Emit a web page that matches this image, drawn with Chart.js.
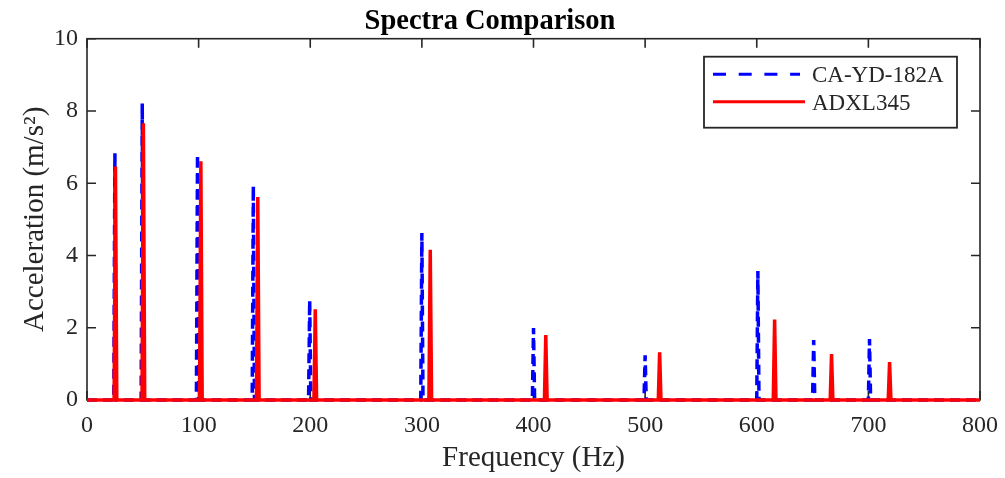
<!DOCTYPE html>
<html>
<head>
<meta charset="utf-8">
<script src="https://cdn.jsdelivr.net/npm/chart.js@4/dist/chart.umd.min.js"></script>
<style>
  html, body { margin: 0; padding: 0; background: #fff; }
  #wrap { width: 1005px; height: 478px; position: relative; }
</style>
</head>
<body>
<div id="wrap"><canvas id="c" width="1005" height="478"></canvas></div>
<script>
// ---- Data ----
const seriesNames = ['CA-YD-182A', 'ADXL345'];
const caFreqs = [25, 49.5, 99, 149, 199.5, 300, 400, 500, 601, 651, 701];
const caAmps  = [6.83, 8.21, 6.80, 5.93, 2.76, 4.62, 1.99, 1.24, 3.57, 1.66, 1.69];
const adxlFreqs = [25.5, 50.5, 102, 153, 204.5, 307.5, 411, 513, 616, 667, 719];
const adxlAmps  = [6.46, 7.66, 6.61, 5.62, 2.51, 4.16, 1.80, 1.32, 2.23, 1.27, 1.05];
const freqRange = [0, 800];
const xTicks = [0, 100, 200, 300, 400, 500, 600, 700, 800];
const yTicks = [0, 2, 4, 6, 8, 10];

// Build spectrum polyline: zero baseline with narrow peaks at the given frequencies
function spectrum(freqs, amps, halfWidth) {
  const pts = [{x: freqRange[0], y: 0}];
  freqs.forEach((f, i) => {
    pts.push({x: f - halfWidth, y: 0});
    pts.push({x: f, y: amps[i]});
    pts.push({x: f + halfWidth, y: 0});
  });
  pts.push({x: freqRange[1], y: 0});
  return pts;
}

const SERIF = "'Liberation Serif', 'Times New Roman', serif";

const frame = {
  id: 'frame',
  beforeDatasetsDraw(chart) {
    const {ctx, chartArea: a, scales: {x, y}} = chart;
    ctx.save();
    ctx.strokeStyle = '#262626';
    ctx.lineWidth = 1.6;
    ctx.strokeRect(a.left, a.top, a.right - a.left, a.bottom - a.top);
    const tl = 9;
    ctx.beginPath();
    xTicks.forEach(v => {
      const px = x.getPixelForValue(v);
      ctx.moveTo(px, a.top); ctx.lineTo(px, a.top + tl);
      ctx.moveTo(px, a.bottom); ctx.lineTo(px, a.bottom - tl);
    });
    yTicks.forEach(v => {
      const py = y.getPixelForValue(v);
      ctx.moveTo(a.left, py); ctx.lineTo(a.left + tl, py);
      ctx.moveTo(a.right, py); ctx.lineTo(a.right - tl, py);
    });
    ctx.stroke();
    ctx.restore();
  },
  afterDatasetsDraw(chart) {
    const {ctx, chartArea: a} = chart;
    const bx = a.right - 276, by = a.top + 18, bw = 253, bh = 71;
    ctx.save();
    ctx.fillStyle = '#fff';
    ctx.fillRect(bx, by, bw, bh);
    ctx.strokeStyle = '#262626';
    ctx.lineWidth = 1.8;
    ctx.strokeRect(bx, by, bw, bh);
    chart.data.datasets.forEach((ds, i) => {
      const ly = by + 17.5 + i * 27.5;
      ctx.beginPath();
      ctx.strokeStyle = ds.borderColor;
      ctx.lineWidth = 3;
      ctx.setLineDash(i === 0 ? [13, 12.7] : []);
      ctx.moveTo(bx + 9, ly);
      ctx.lineTo(bx + (i === 0 ? 96 : 101), ly);
      ctx.stroke();
      ctx.setLineDash([]);
      ctx.fillStyle = '#262626';
      ctx.font = '23px ' + SERIF;
      ctx.textBaseline = 'middle';
      ctx.textAlign = 'left';
      ctx.fillText(ds.label, bx + 108, ly + 2);
    });
    ctx.restore();
  }
};

new Chart(document.getElementById('c'), {
  type: 'line',
  data: {
    datasets: [
      {
        label: seriesNames[0],
        data: spectrum(caFreqs, caAmps, 1.0),
        borderColor: '#0000ff',
        borderWidth: 3.5,
        borderDash: [10, 6],
        pointRadius: 0,
        tension: 0,
        fill: false,
        order: 1,
        clip: false
      },
      {
        label: seriesNames[1],
        data: spectrum(adxlFreqs, adxlAmps, 1.2),
        borderColor: '#ff0000',
        borderWidth: 3.5,
        pointRadius: 0,
        tension: 0,
        fill: false,
        order: 0,
        clip: false
      }
    ]
  },
  options: {
    responsive: false,
    animation: false,
    layout: { padding: { left: 0, right: 25, top: 0, bottom: 0 } },
    plugins: {
      legend: { display: false },
      tooltip: { enabled: false },
      title: {
        display: true,
        text: 'Spectra Comparison',
        color: '#000',
        font: { family: SERIF, size: 28.5, weight: 'bold', lineHeight: 1.2 },
        padding: { top: 4.5, bottom: 0 }
      }
    },
    scales: {
      x: {
        type: 'linear',
        min: freqRange[0], max: freqRange[1],
        afterFit(s) { s.height = 78; s.paddingLeft = 0; s.paddingRight = 0; },
        afterBuildTicks(s) { s.ticks = xTicks.map(v => ({value: v})); },
        grid: { display: false, drawTicks: false },
        border: { display: false },
        ticks: {
          color: '#262626', padding: 11, maxRotation: 0, autoSkip: false,
          font: { family: SERIF, size: 24 }
        },
        title: {
          display: true, text: 'Frequency (Hz)', color: '#262626',
          font: { family: SERIF, size: 29, lineHeight: 1.2 },
          padding: { top: 0, bottom: 2 }
        }
      },
      y: {
        min: 0, max: 10,
        afterFit(s) { s.width = 87; s.paddingTop = 0; s.paddingBottom = 0; },
        afterBuildTicks(s) { s.ticks = yTicks.map(v => ({value: v})); },
        grid: { display: false, drawTicks: false },
        border: { display: false },
        ticks: {
          color: '#262626', padding: 9,
          font: { family: SERIF, size: 24 }
        },
        title: {
          display: true, text: 'Acceleration (m/s²)', color: '#262626',
          font: { family: SERIF, size: 29, lineHeight: 1.2 },
          padding: { top: 18, bottom: 0 }
        }
      }
    }
  },
  plugins: [frame]
});
</script>
</body>
</html>
